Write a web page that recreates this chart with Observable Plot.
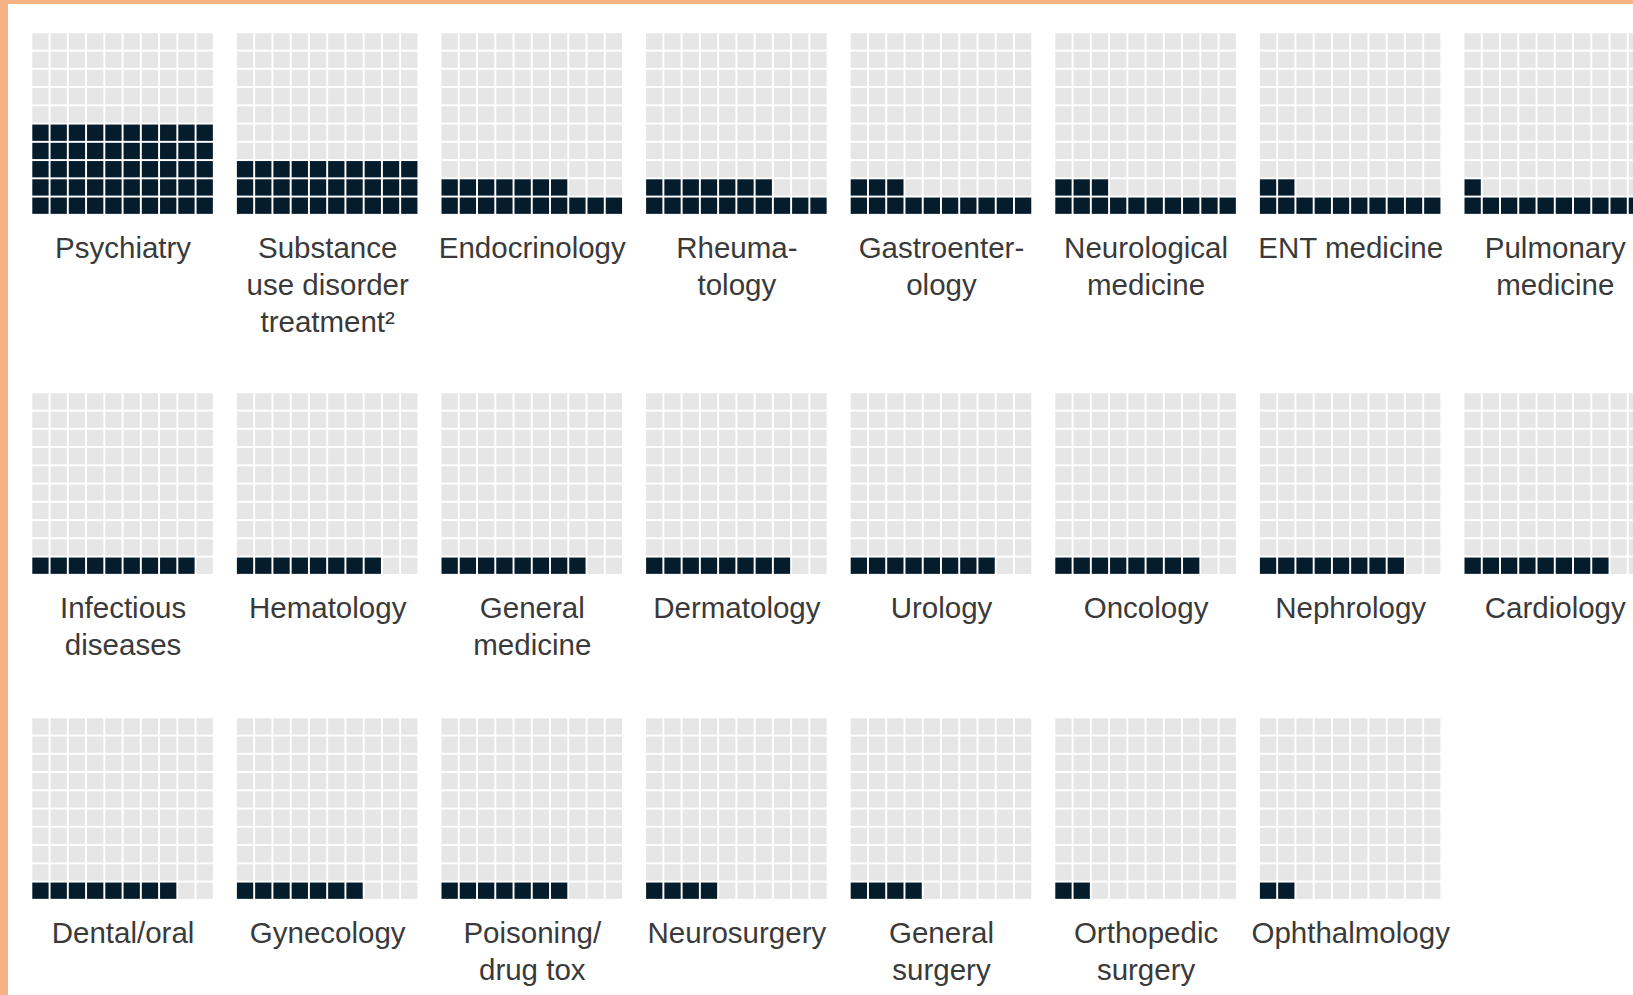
<!DOCTYPE html>
<html>
<head>
<meta charset="utf-8">
<script src="https://cdn.jsdelivr.net/npm/d3@7"></script>
<script src="https://cdn.jsdelivr.net/npm/@observablehq/plot@0.6"></script>
<style>
  html, body { margin: 0; padding: 0; background: #fff; overflow: hidden; }
  #frame { width: 1633px; height: 995px; box-sizing: border-box; border-left: 8px solid #F5B282; border-top: 4px solid #F5B282; overflow: hidden; background: #fff; }
  #chart svg { display: block; max-width: none; }
</style>
</head>
<body>
<div id="frame"><div id="chart"></div></div>
<script>
// ---- data ----
const specialties = [
  "Psychiatry", "Substance\nuse disorder\ntreatment²", "Endocrinology", "Rheuma-\ntology",
  "Gastroenter-\nology", "Neurological\nmedicine", "ENT medicine", "Pulmonary\nmedicine",
  "Infectious\ndiseases", "Hematology", "General\nmedicine", "Dermatology",
  "Urology", "Oncology", "Nephrology", "Cardiology",
  "Dental/oral", "Gynecology", "Poisoning/\ndrug tox", "Neurosurgery",
  "General\nsurgery", "Orthopedic\nsurgery", "Ophthalmology"
];
const shares = [
  50, 30, 17, 17, 13, 13, 12, 11,
  9, 8, 8, 8, 8, 8, 8, 8,
  8, 7, 7, 4, 4, 2, 2
];
const cellsPerGrid = 100;
const gridsPerRow = 8;

// ---- layout ----
const W = 1625, H = 991;
const L = { left: 24.3, gridPitch: 204.6, cellPitch: 18.25, cellSize: 16.3, rowTops: [29.3, 389.3, 714.3], labelGap: 17.8 };
const gridWidth = 9 * L.cellPitch + L.cellSize;

const cells = specialties.flatMap((name, i) =>
  d3.range(cellsPerGrid).map(k => ({
    i, k,
    gc: i % gridsPerRow, gr: Math.floor(i / gridsPerRow),
    col: k % 10, rowFromBottom: Math.floor(k / 10),
    state: k < shares[i] ? "filled" : "empty"
  }))
);

const cx = d => L.left + d.gc * L.gridPitch + d.col * L.cellPitch;
const cy = d => L.rowTops[d.gr] + (9 - d.rowFromBottom) * L.cellPitch;

const chart = Plot.plot({
  width: W, height: H,
  margin: 0,
  style: { fontFamily: "'Liberation Sans', Arial, sans-serif", background: "transparent" },
  x: { type: "linear", domain: [0, W], range: [0, W], axis: null },
  y: { type: "linear", domain: [0, H], range: [0, H], axis: null },
  color: { domain: ["empty", "filled"], range: ["#E6E6E6", "#051C2C"] },
  marks: [
    Plot.rect(cells, {
      x1: cx, x2: d => cx(d) + L.cellSize,
      y1: cy, y2: d => cy(d) + L.cellSize,
      fill: "state"
    }),
    Plot.text(specialties, {
      x: (d, i) => L.left + (i % gridsPerRow) * L.gridPitch + gridWidth / 2,
      y: (d, i) => L.rowTops[Math.floor(i / gridsPerRow)] + gridWidth + L.labelGap,
      text: d => d,
      textAnchor: "middle",
      lineAnchor: "top",
      lineHeight: 1.25,
      fontSize: 29.5,
      fill: "#3a3a3a"
    })
  ]
});
document.getElementById("chart").appendChild(chart);
</script>
</body>
</html>
